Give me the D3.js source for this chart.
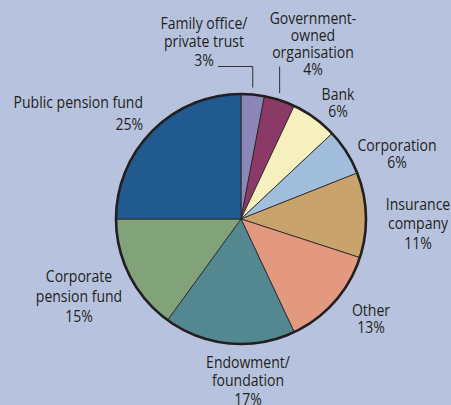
<!DOCTYPE html>
<html>
<head>
<meta charset="utf-8">
<script src="https://cdn.jsdelivr.net/npm/d3@7"></script>
<style>
  html, body { margin: 0; padding: 0; background: #b7c3de; }
  svg { display: block; }
  text { font-family: "Open Sans", "Noto Sans", sans-serif; font-size: 16.5px; fill: #231f20; }
</style>
</head>
<body>
<div class="vis"></div>
<script>
// slices, clockwise from 12 o'clock
const categories = ["Family office/\nprivate trust", "Government-\nowned\norganisation", "Bank", "Corporation",
    "Insurance\ncompany", "Other", "Endowment/\nfoundation", "Corporate\npension fund", "Public pension fund"];
const values = [3, 4, 6, 6, 11, 13, 17, 15, 25];
const colours = ["#8c87b9", "#8b3a68", "#f6f0be", "#a1bfdc", "#c8a46c", "#e2997f", "#538891", "#82a279", "#205a8e"];

// label layout: first baseline, line height, anchor
const labelPos = [
    {x: 204, y: 29, lh: 18.4, a: "middle"},
    {x: 313, y: 24, lh: 17, a: "middle"},
    {x: 338, y: 100, lh: 17, a: "middle"},
    {x: 397, y: 151, lh: 17.5, a: "middle"},
    {x: 418, y: 210, lh: 19.3, a: "middle"},
    {x: 371, y: 316, lh: 17.5, a: "middle"},
    {x: 248, y: 368, lh: 18.5, a: "middle"},
    {x: 79, y: 282, lh: 20, a: "middle"},
    {x: 143, y: 108, lh: 22, a: "end"}
];

const W = 451, H = 405, cx = 241, cy = 219, r = 125;

const svg = d3.select(".vis").append("svg").attr("width", W).attr("height", H);
const g = svg.append("g").attr("transform", `translate(${cx}, ${cy})`);

const pie = d3.pie().sort(null).value(d => d)(values);
const arc = d3.arc().innerRadius(0).outerRadius(r);

g.selectAll("path.slice")
    .data(pie)
    .join("path")
    .attr("class", "slice")
    .attr("d", arc)
    .attr("fill", (d, i) => colours[i])
    .attr("stroke", "#231f20")
    .attr("stroke-width", 0.8)
    .attr("stroke-linejoin", "round");

g.append("circle")
    .attr("r", r)
    .attr("fill", "none")
    .attr("stroke", "#231f20")
    .attr("stroke-width", 2.6);

// leader lines for the two thin slices at the top
const leaderTop = 66.5;
[0, 1].forEach(i => {
    const mid = (pie[i].startAngle + pie[i].endAngle) / 2;
    const x = r * Math.sin(mid);
    const y0 = -r * Math.cos(mid) - 7;
    const pts = i === 0
        ? [[x, y0], [x, leaderTop - cy], [218 - cx, leaderTop - cy]]
        : [[x, y0], [x, leaderTop - cy]];
    g.append("path")
        .attr("d", d3.line()(pts))
        .attr("fill", "none")
        .attr("stroke", "#231f20")
        .attr("stroke-width", 0.9);
});

// labels
categories.forEach((c, i) => {
    const p = labelPos[i];
    const lines = c.split("\n").concat([values[i] + "%"]);
    const t = svg.append("text")
        .attr("text-anchor", p.a)
        .attr("transform", `translate(${p.x}, ${p.y}) scale(0.85, 1)`);
    lines.forEach((l, j) => {
        t.append("tspan").attr("x", 0).attr("y", j * p.lh).text(l);
    });
});
</script>
</body>
</html>
